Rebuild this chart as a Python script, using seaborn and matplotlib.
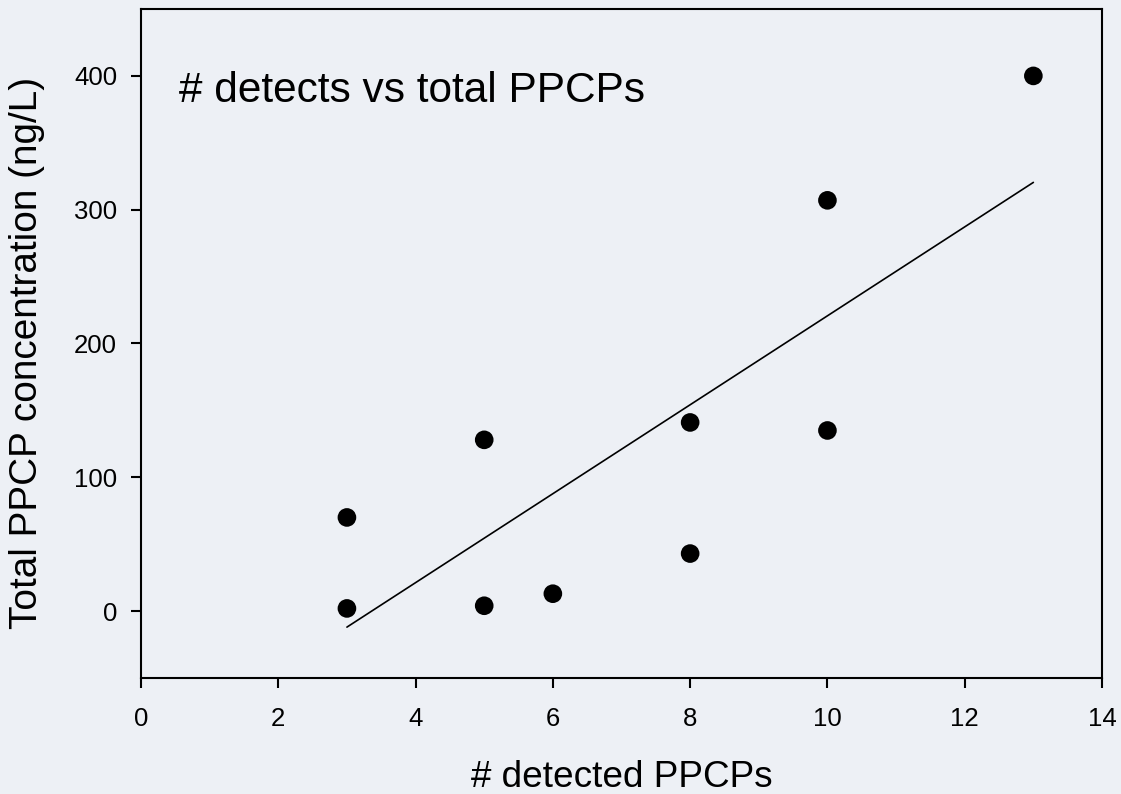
import matplotlib
matplotlib.use("Agg")
import matplotlib.pyplot as plt
import seaborn as sns
import pandas as pd

# data
detected = [3, 3, 5, 5, 6, 8, 8, 10, 10, 13]
total_conc = [70, 2, 128, 4, 13, 141, 43, 307, 135, 400]
x_ticks = [0, 2, 4, 6, 8, 10, 12, 14]
y_ticks = [0, 100, 200, 300, 400]
title_text = "# detects vs total PPCPs"
x_label = "# detected PPCPs"
y_label = "Total PPCP concentration (ng/L)"

df = pd.DataFrame({"detected": detected, "total": total_conc})

sns.set_theme(style="ticks")
plt.rcParams["font.family"] = ["Liberation Sans", "DejaVu Sans"]
bg = "#EDF0F5"

fig, ax = plt.subplots(figsize=(11.21, 7.94), dpi=100)
fig.patch.set_facecolor(bg)
ax.set_facecolor(bg)
fig.subplots_adjust(left=141/1121, right=1102/1121, top=1-9/794, bottom=1-678/794)

sns.regplot(data=df, x="detected", y="total", ax=ax, ci=None, truncate=True,
            scatter_kws=dict(s=180, color="black", edgecolor="none", alpha=1, zorder=3),
            line_kws=dict(color="black", lw=1.2, zorder=2))

ax.set_xlim(0, 14)
ax.set_ylim(-50, 450)
ax.set_xticks(x_ticks)
ax.set_yticks(y_ticks)

for sp in ax.spines.values():
    sp.set_visible(True)
    sp.set_linewidth(1.5)
    sp.set_color("black")
ax.tick_params(axis="both", direction="out", length=7.2, width=1.5, labelsize=18.5,
               colors="black")
ax.tick_params(axis="x", pad=13.5)
ax.tick_params(axis="y", pad=10)
ax.tick_params(top=False, right=False)

ax.set_xlabel(x_label, fontsize=26.6, color="black")
ax.set_ylabel(y_label, fontsize=27.9, color="black")
ax.xaxis.label.set_va("baseline")
ax.xaxis.set_label_coords(0.5, (678 - 787) / 669)
ax.yaxis.set_label_coords(-0.1, (678 - 353) / 669)

ax.text(0.553, 380.6, title_text, fontsize=30.5, color="black", ha="left", va="baseline")

fig.savefig("out.png", dpi=100, facecolor=bg)
